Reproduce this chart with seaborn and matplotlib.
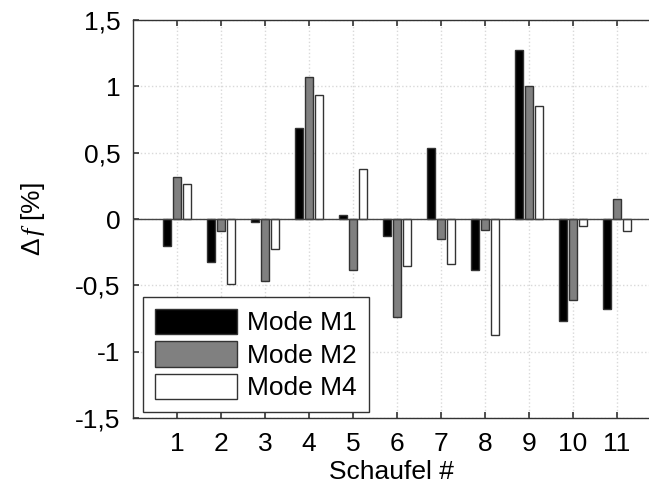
import matplotlib
matplotlib.use("Agg")
import matplotlib.pyplot as plt
import seaborn as sns
import pandas as pd
from matplotlib.ticker import FuncFormatter

blades = ["1", "2", "3", "4", "5", "6", "7", "8", "9", "10", "11"]
mode_m1 = [-0.205, -0.32, -0.024, 0.686, 0.03, -0.13, 0.535, -0.385, 1.272, -0.766, -0.675]
mode_m2 = [0.317, -0.09, -0.47, 1.069, -0.38, -0.738, -0.149, -0.079, 1.004, -0.61, 0.154]
mode_m4 = [0.265, -0.49, -0.224, 0.936, 0.374, -0.355, -0.337, -0.874, 0.853, -0.049, -0.087]
series_names = ["Mode M1", "Mode M2", "Mode M4"]
y_ticks = [-1.5, -1, -0.5, 0, 0.5, 1, 1.5]

rows = []
for name, vals in zip(series_names, [mode_m1, mode_m2, mode_m4]):
    for b, v in zip(blades, vals):
        rows.append({"Schaufel": b, "df": v, "Mode": name})
df = pd.DataFrame(rows)

sns.set_style("white")
plt.rcParams["font.family"] = ["Liberation Sans", "DejaVu Sans"]
plt.rcParams["mathtext.fontset"] = "custom"
plt.rcParams["mathtext.it"] = "Liberation Serif:italic"
plt.rcParams["mathtext.rm"] = "Liberation Sans"
plt.rcParams["text.color"] = "black"
plt.rcParams["axes.labelcolor"] = "black"
plt.rcParams["xtick.labelcolor"] = "black"
plt.rcParams["ytick.labelcolor"] = "black"

FS = 19

fig = plt.figure(figsize=(6.49, 4.88), dpi=100)
ax = fig.add_axes([0.205, 0.143, 0.795, 0.816])

sns.barplot(data=df, x="Schaufel", y="df", hue="Mode", order=blades,
            hue_order=series_names, palette=["black", "#808080", "white"],
            saturation=1, width=0.68, gap=0.16, edgecolor="#333333",
            linewidth=1.0, ax=ax, zorder=3)

ax.set_xlim(-1, 10.73)
ax.set_ylim(-1.5, 1.5)
ax.set_yticks(y_ticks)
ax.yaxis.set_major_formatter(FuncFormatter(lambda v, p: ("%g" % v).replace(".", ",")))
ax.axhline(0, color="#444444", linewidth=1.0, zorder=4)
ax.grid(True, color="#d9d9d9", linestyle=":", linewidth=1.0, zorder=0)
ax.set_axisbelow(True)

for s in ["left", "top", "bottom"]:
    ax.spines[s].set_color("#333333")
    ax.spines[s].set_linewidth(1.0)
ax.spines["right"].set_visible(False)

ax.tick_params(axis="both", direction="in", length=4, width=1.2, color="#333333",
               labelsize=FS, top=True, left=True, bottom=True)
ax.tick_params(axis="y", pad=9)
ax.tick_params(axis="x", pad=10)
ax.set_xlabel("Schaufel #", fontsize=FS, labelpad=3)
ax.set_ylabel(r"$\Delta\,f$ [%]", fontsize=FS, labelpad=20)

leg = ax.legend(loc="lower left", bbox_to_anchor=(0.019, 0.015), borderaxespad=0,
                fontsize=FS, handlelength=3.1, handleheight=1.1, labelspacing=0.22,
                handletextpad=0.4, borderpad=0.45, fancybox=False, frameon=True,
                framealpha=1, edgecolor="#333333")
leg.get_frame().set_linewidth(1.0)

fig.savefig("out.png", dpi=100)
